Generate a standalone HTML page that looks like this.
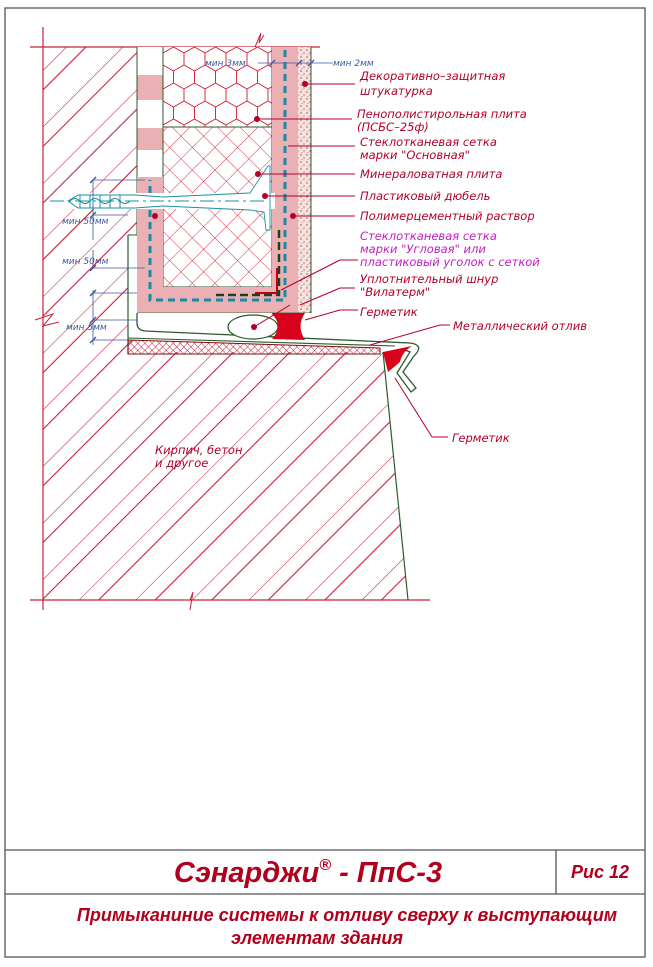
<!DOCTYPE html>
<html><head><meta charset="utf-8"><style>
html,body{margin:0;padding:0;background:#fff;}
svg{display:block;}
.lab{font-family:"DejaVu Sans","Liberation Sans",sans-serif;font-style:italic;font-size:11.5px;fill:#b3002a;}
.dim{font-family:"DejaVu Sans","Liberation Sans",sans-serif;font-style:italic;font-size:9px;fill:#3a5aa0;}
</style></head><body>
<svg width="653" height="967" viewBox="0 0 653 967" xmlns="http://www.w3.org/2000/svg">
<defs>
<pattern id="hatch" patternUnits="userSpaceOnUse" width="40" height="40" patternTransform="rotate(45)">
<line x1="0" y1="0" x2="0" y2="40" stroke="#c8203c" stroke-width="1.1"/><line x1="14" y1="0" x2="14" y2="40" stroke="#c8203c" stroke-width="1.1"/></pattern>
<pattern id="cross" patternUnits="userSpaceOnUse" width="16" height="16" patternTransform="rotate(45)">
<line x1="0" y1="0" x2="0" y2="16" stroke="#d01830" stroke-width="0.9"/><line x1="0" y1="0" x2="16" y2="0" stroke="#d01830" stroke-width="0.9"/></pattern>
<pattern id="hex" patternUnits="userSpaceOnUse" width="21" height="36" x="163" y="47">
<path d="M0,6 L10.5,0 L21,6 L21,18 L10.5,24 L0,18 Z M10.5,24 L10.5,36" fill="none" stroke="#d01830" stroke-width="0.9"/></pattern>
<pattern id="fine" patternUnits="userSpaceOnUse" width="5" height="5" patternTransform="rotate(45)">
<line x1="0" y1="0" x2="0" y2="5" stroke="#c8203c" stroke-width="1"/><line x1="0" y1="0" x2="5" y2="0" stroke="#c8203c" stroke-width="1"/></pattern>
<pattern id="dots" patternUnits="userSpaceOnUse" width="6" height="7">
<circle cx="1" cy="1" r="0.7" fill="#c03040"/><circle cx="4" cy="4" r="0.6" fill="#c03040"/><circle cx="2" cy="5.5" r="0.5" fill="#d06070"/></pattern>
</defs>

<!-- frame -->
<rect x="5" y="8" width="640" height="949" fill="none" stroke="#555" stroke-width="1.3"/>
<line x1="5" y1="850" x2="645" y2="850" stroke="#555" stroke-width="1.3"/>
<line x1="5" y1="894" x2="645" y2="894" stroke="#555" stroke-width="1.3"/>
<line x1="556" y1="850" x2="556" y2="894" stroke="#555" stroke-width="1.3"/>

<!-- wall hatch -->
<path d="M43,47 L137,47 L137,352 L383,352 L408,600 L43,600 Z" fill="url(#hatch)"/>
<line x1="30" y1="47" x2="320" y2="47" stroke="#c8203c" stroke-width="1.2"/>
<path d="M255,47 l6,-14 l-2,10 l5,-8" fill="none" stroke="#c8203c" stroke-width="1"/>
<line x1="43" y1="27" x2="43" y2="610" stroke="#c8203c" stroke-width="1.2"/>
<line x1="30" y1="600" x2="430" y2="600" stroke="#c8203c" stroke-width="1.2"/>
<path d="M190,600 l3,-8 l-3,18" fill="none" stroke="#c8203c" stroke-width="1"/>
<path d="M35,320 l18,-6 l-10,12 l16,-4" fill="none" stroke="#c8203c" stroke-width="1"/>
<line x1="383" y1="352" x2="408" y2="600" stroke="#2c5a2c" stroke-width="1.2"/>

<!-- adhesive column -->
<rect x="137" y="47" width="26" height="190" fill="#fff"/>
<rect x="137" y="75" width="26" height="25" fill="#eab0b4"/>
<rect x="137" y="128" width="26" height="22" fill="#eab0b4"/>
<line x1="137" y1="47" x2="137" y2="235" stroke="#2c5a2c" stroke-width="1"/>

<!-- EPS -->
<rect x="163" y="47" width="109" height="80" fill="#fff"/>
<rect x="163" y="47" width="109" height="80" fill="url(#hex)"/>
<!-- mineral wool -->
<rect x="163" y="127" width="109" height="160" fill="#fff"/>
<rect x="163" y="127" width="109" height="160" fill="url(#cross)"/>
<rect x="163" y="127" width="109" height="160" fill="none" stroke="#2c5a2c" stroke-width="1"/>
<line x1="163" y1="47" x2="163" y2="127" stroke="#2c5a2c" stroke-width="1"/>
<line x1="272" y1="47" x2="272" y2="127" stroke="#2c5a2c" stroke-width="1"/>

<!-- render pink L -->
<path d="M272,47 L298,47 L298,313 L137,313 L137,177 L163,177 L163,287 L272,287 Z" fill="#eab0b4"/>
<path d="M298,47 L311,47 L311,313 L298,313 Z" fill="#f4e4e0"/>
<path d="M298,47 L311,47 L311,313 L298,313 Z" fill="url(#dots)"/>
<line x1="311" y1="47" x2="311" y2="313" stroke="#2c5a2c" stroke-width="1"/>
<line x1="137" y1="313" x2="311" y2="313" stroke="#2c5a2c" stroke-width="0.8"/>
<!-- mesh dashed -->
<path d="M285,50 L285,300 L150,300 L150,180" fill="none" stroke="#1a88a8" stroke-width="3" stroke-dasharray="7,5"/>
<path d="M279,230 L279,295 L215,295" fill="none" stroke="#1c4020" stroke-width="2.5" stroke-dasharray="8,4"/>
<path d="M277,268 L277,293 L255,293" fill="none" stroke="#c00010" stroke-width="2"/>

<!-- dowel -->
<rect x="65" y="193" width="210" height="16" fill="#fff"/>
<path d="M68,201 L78,195 L135,195 L163,197 L250,193 L268,166 L270,166 L270,230 L266,230 L264,212 L250,210 L163,206 L135,208 L78,208 Z" fill="#fff" stroke="#1a90a0" stroke-width="0.9"/>
<line x1="50" y1="201" x2="265" y2="201" stroke="#1a90a0" stroke-width="1" stroke-dasharray="14,4,3,4"/>
<path d="M70,201 q5,-5 10,0 q5,5 10,0 q5,-5 10,0 q5,5 10,0 q5,-5 10,0 q5,5 10,0" fill="none" stroke="#1a90a0" stroke-width="1"/>
<g stroke="#1a90a0" stroke-width="1"><line x1="80" y1="195" x2="80" y2="208"/><line x1="90" y1="195" x2="90" y2="208"/><line x1="100" y1="195" x2="100" y2="208"/><line x1="110" y1="195" x2="110" y2="208"/><line x1="120" y1="195" x2="120" y2="208"/></g>

<!-- sill area -->
<path d="M128,235 L137,235 L137,313 L311,313 L311,340 L128,340 Z" fill="#fff"/>
<path d="M128,235 L137,235" stroke="#2c5a2c" stroke-width="1"/>
<path d="M128,235 L128,354" stroke="#2c5a2c" stroke-width="1.2"/>
<path d="M128,340 L380,348 L380,354 L128,354 Z" fill="url(#fine)" stroke="#7a1010" stroke-width="1"/>
<path d="M137,313 L137,323 Q137,330 145,331 L410,343 Q425,345 414,356 L403,372 L416,388 L411,392 L397,373 L410,352 L405,350" fill="none" stroke="#2c5a2c" stroke-width="1.3"/>
<line x1="128" y1="338" x2="395" y2="346" stroke="#2c5a2c" stroke-width="1.1"/>
<ellipse cx="253" cy="327" rx="25" ry="12" fill="#fff" stroke="#2c5a2c" stroke-width="1.2"/>
<path d="M272,313 L305,313 Q296,326 305,340 L272,339 Q284,326 272,314 Z" fill="#d8001a"/>
<path d="M383,352 L412,346 Q402,352 400,362 L388,372 Z" fill="#d8001a"/>

<!-- dimensions -->
<g stroke="#3a5aa0" stroke-width="0.8" fill="none">
<line x1="93" y1="180" x2="93" y2="240"/><line x1="93" y1="250" x2="93" y2="268"/>
<line x1="93" y1="290" x2="93" y2="345"/>
<line x1="93" y1="180" x2="145" y2="180"/><line x1="93" y1="215" x2="128" y2="215"/>
<line x1="93" y1="268" x2="145" y2="268"/><line x1="93" y1="293" x2="137" y2="293"/>
<line x1="93" y1="320" x2="137" y2="320"/><line x1="93" y1="340" x2="128" y2="340"/>
<line x1="258" y1="63" x2="333" y2="63"/>
</g>
<g stroke="#3a5aa0" stroke-width="1.4"><line x1="90" y1="183" x2="96" y2="177"/><line x1="90" y1="218" x2="96" y2="212"/><line x1="90" y1="271" x2="96" y2="265"/><line x1="90" y1="296" x2="96" y2="290"/><line x1="90" y1="323" x2="96" y2="317"/><line x1="90" y1="343" x2="96" y2="337"/>
<line x1="269" y1="66" x2="275" y2="60"/><line x1="296" y1="66" x2="302" y2="60"/><line x1="308" y1="66" x2="314" y2="60"/></g>
<text class="dim" x="205" y="66">мин 3мм</text>
<text class="dim" x="333" y="66">мин 2мм</text>
<text class="dim" x="62" y="224">мин 50мм</text>
<text class="dim" x="62" y="264">мин 50мм</text>
<text class="dim" x="66" y="330">мин 5мм</text>

<!-- leaders -->
<g stroke="#b3002a" stroke-width="1" fill="none">
<line x1="305" y1="84" x2="355" y2="84"/>
<line x1="257" y1="119" x2="352" y2="119"/>
<line x1="288" y1="146" x2="355" y2="146"/>
<line x1="258" y1="174" x2="355" y2="174"/>
<line x1="265" y1="196" x2="355" y2="196"/>
<line x1="293" y1="216" x2="355" y2="216"/>
<line x1="281" y1="290" x2="340" y2="260" /><line x1="340" y1="260" x2="358" y2="260"/>
<line x1="254" y1="327" x2="290" y2="305"/>
<line x1="300" y1="305" x2="340" y2="288"/><line x1="340" y1="288" x2="355" y2="288"/>
<line x1="305" y1="320" x2="340" y2="310"/><line x1="340" y1="310" x2="358" y2="310"/>
<line x1="370" y1="345" x2="440" y2="325"/><line x1="440" y1="325" x2="450" y2="325"/>
<line x1="395" y1="378" x2="432" y2="437"/><line x1="432" y1="437" x2="448" y2="437"/>
</g>
<g fill="#b3002a"><circle cx="305" cy="84" r="3"/><circle cx="257" cy="119" r="3"/><circle cx="258" cy="174" r="3"/><circle cx="265" cy="196" r="3"/><circle cx="293" cy="216" r="3"/><circle cx="155" cy="216" r="3"/><circle cx="254" cy="327" r="3"/></g>

<text class="lab" x="360" y="80">Декоративно–защитная</text>
<text class="lab" x="360" y="95">штукатурка</text>
<text class="lab" x="357" y="118">Пенополистирольная плита</text>
<text class="lab" x="357" y="131">(ПСБС–25ф)</text>
<text class="lab" x="360" y="146">Стеклотканевая сетка</text>
<text class="lab" x="360" y="159">марки "Основная"</text>
<text class="lab" x="360" y="178">Минераловатная плита</text>
<text class="lab" x="360" y="200">Пластиковый дюбель</text>
<text class="lab" x="360" y="220">Полимерцементный раствор</text>
<text class="lab" x="360" y="240" style="fill:#c020c0">Стеклотканевая сетка</text>
<text class="lab" x="360" y="253" style="fill:#c020c0">марки "Угловая" или</text>
<text class="lab" x="360" y="266" style="fill:#c020c0">пластиковый уголок с сеткой</text>
<text class="lab" x="360" y="283">Уплотнительный шнур</text>
<text class="lab" x="360" y="296">"Вилатерм"</text>
<text class="lab" x="360" y="316">Герметик</text>
<text class="lab" x="453" y="330">Металлический отлив</text>
<text class="lab" x="452" y="442">Герметик</text>
<text class="lab" x="155" y="454">Кирпич, бетон</text>
<text class="lab" x="155" y="467">и другое</text>

<!-- title block -->
<text x="308" y="882" text-anchor="middle" font-family="Liberation Sans, sans-serif" font-weight="bold" font-style="italic" font-size="29" fill="#b0001e">Сэнарджи<tspan font-size="16" dy="-12">®</tspan><tspan dy="12"> - ПпС-3</tspan></text>
<text x="600" y="878" text-anchor="middle" font-family="Liberation Sans, sans-serif" font-weight="bold" font-style="italic" font-size="18" fill="#b0001e">Рис 12</text>
<text x="347" y="921" text-anchor="middle" font-family="Liberation Sans, sans-serif" font-weight="bold" font-style="italic" font-size="18" fill="#b0001e">Примыканиние системы к отливу сверху к выступающим</text>
<text x="317" y="944" text-anchor="middle" font-family="Liberation Sans, sans-serif" font-weight="bold" font-style="italic" font-size="18" fill="#b0001e">элементам здания</text>
</svg>
</body></html>
